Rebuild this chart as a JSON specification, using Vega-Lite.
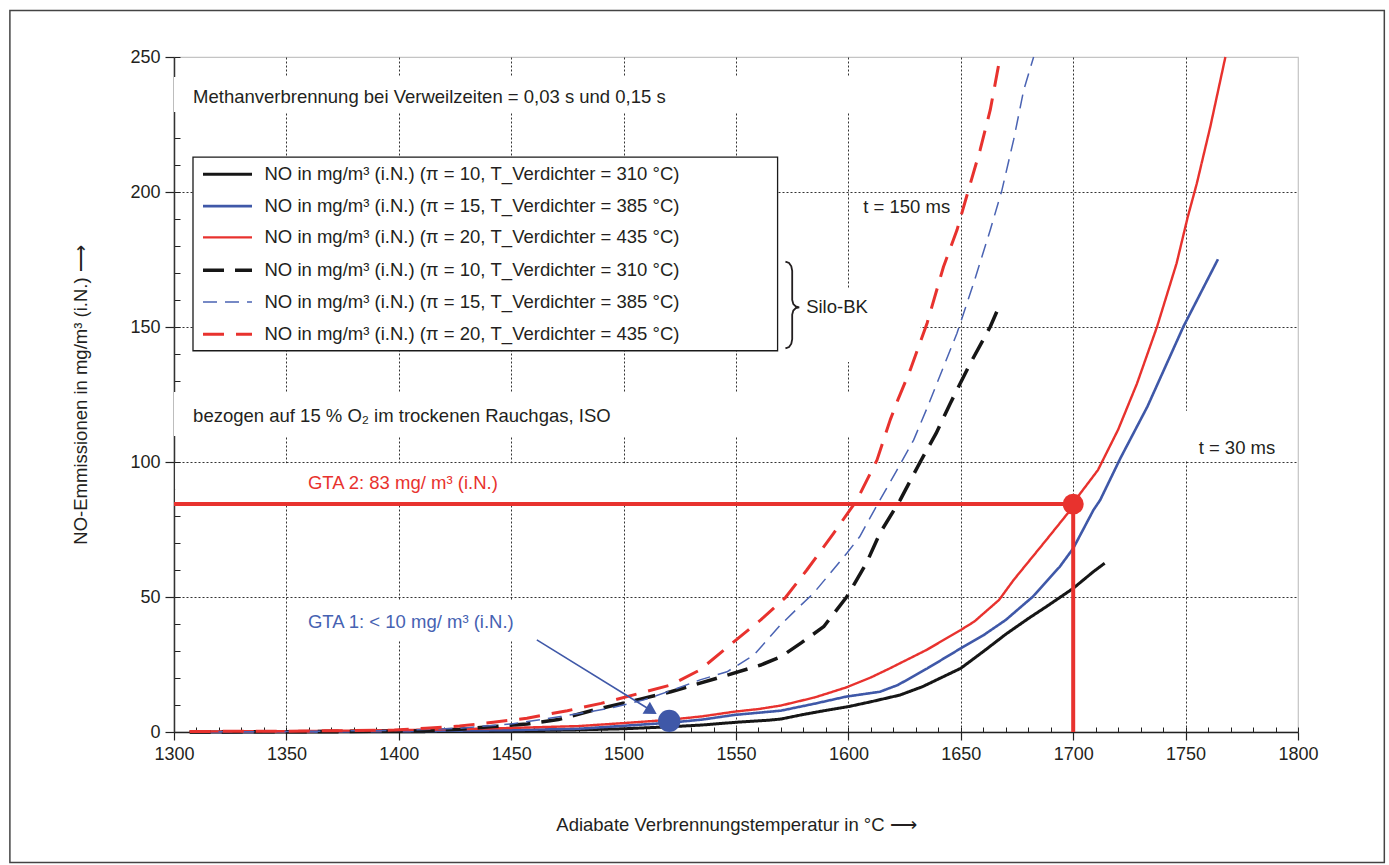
{
  "$schema": "https://vega.github.io/schema/vega-lite/v6.json",
  "width": 1124,
  "height": 675,
  "autosize": {"type": "none"},
  "padding": {"left": 174, "top": 57, "right": 91, "bottom": 133},
  "background": "white",
  "config": {
    "view": {"stroke": "#c4c4c4", "strokeWidth": 1.2},
    "font": "Liberation Sans",
    "text": {"font": "Liberation Sans"},
    "legend": {
      "orient": "none",
      "legendX": 29,
      "legendY": 105.8,
      "direction": "vertical",
      "padding": 0,
      "symbolType": "M-2.5,0H2.5",
      "symbolSize": 384,
      "symbolOffset": 12.5,
      "labelFont": "Liberation Sans",
      "labelFontSize": 18.5,
      "labelColor": "#231f20",
      "rowPadding": 10.8,
      "labelOffset": 25,
      "labelLimit": 0
    }
  },
  "datasets": {
    "frame": [{"x1": 1227.0, "x2": 1838.4, "y1": -48.3, "y2": 267.2}],
    "masks": [
      {"x": 1300, "x2": 1609.7, "y": 229.6, "y2": 242.6},
      {"x": 1300, "x2": 1609.7, "y": 109.6, "y2": 125.9},
      {"x": 1568.3, "x2": 1632.0, "y": 137.0, "y2": 164.4},
      {"x": 1300.5, "x2": 1545, "y": 84.8, "y2": 99.5},
      {"x": 1356, "x2": 1463, "y": 34.1, "y2": 48.5},
      {"x": 1747, "x2": 1795, "y": 100.5, "y2": 119}
    ],
    "legendbox": [{"x": 1308.45, "x2": 1568.5, "y": 141.2, "y2": 212.9}],
    "curves": [
      {"series": "π = 10, T_Verdichter = 310 °C|Flamme", "x": 1307, "y": 0},
      {"series": "π = 10, T_Verdichter = 310 °C|Flamme", "x": 1350, "y": 0},
      {"series": "π = 10, T_Verdichter = 310 °C|Flamme", "x": 1400, "y": 0.1},
      {"series": "π = 10, T_Verdichter = 310 °C|Flamme", "x": 1430, "y": 0.2},
      {"series": "π = 10, T_Verdichter = 310 °C|Flamme", "x": 1450, "y": 0.4},
      {"series": "π = 10, T_Verdichter = 310 °C|Flamme", "x": 1480, "y": 0.8},
      {"series": "π = 10, T_Verdichter = 310 °C|Flamme", "x": 1500, "y": 1.2},
      {"series": "π = 10, T_Verdichter = 310 °C|Flamme", "x": 1520, "y": 1.9},
      {"series": "π = 10, T_Verdichter = 310 °C|Flamme", "x": 1535, "y": 2.6},
      {"series": "π = 10, T_Verdichter = 310 °C|Flamme", "x": 1550, "y": 3.6},
      {"series": "π = 10, T_Verdichter = 310 °C|Flamme", "x": 1565, "y": 4.4},
      {"series": "π = 10, T_Verdichter = 310 °C|Flamme", "x": 1570, "y": 4.8},
      {"series": "π = 10, T_Verdichter = 310 °C|Flamme", "x": 1580, "y": 6.5},
      {"series": "π = 10, T_Verdichter = 310 °C|Flamme", "x": 1590, "y": 8.0},
      {"series": "π = 10, T_Verdichter = 310 °C|Flamme", "x": 1600, "y": 9.4},
      {"series": "π = 10, T_Verdichter = 310 °C|Flamme", "x": 1610, "y": 11.2},
      {"series": "π = 10, T_Verdichter = 310 °C|Flamme", "x": 1623, "y": 13.7},
      {"series": "π = 10, T_Verdichter = 310 °C|Flamme", "x": 1633, "y": 16.8},
      {"series": "π = 10, T_Verdichter = 310 °C|Flamme", "x": 1641, "y": 20.0},
      {"series": "π = 10, T_Verdichter = 310 °C|Flamme", "x": 1650, "y": 23.6},
      {"series": "π = 10, T_Verdichter = 310 °C|Flamme", "x": 1660, "y": 29.8},
      {"series": "π = 10, T_Verdichter = 310 °C|Flamme", "x": 1670, "y": 36.2},
      {"series": "π = 10, T_Verdichter = 310 °C|Flamme", "x": 1680, "y": 42.0},
      {"series": "π = 10, T_Verdichter = 310 °C|Flamme", "x": 1688, "y": 46.4},
      {"series": "π = 10, T_Verdichter = 310 °C|Flamme", "x": 1700, "y": 53.2},
      {"series": "π = 10, T_Verdichter = 310 °C|Flamme", "x": 1709, "y": 59.4},
      {"series": "π = 10, T_Verdichter = 310 °C|Flamme", "x": 1714, "y": 62.5},

      {"series": "π = 15, T_Verdichter = 385 °C|Flamme", "x": 1310, "y": 0},
      {"series": "π = 15, T_Verdichter = 385 °C|Flamme", "x": 1350, "y": 0.1},
      {"series": "π = 15, T_Verdichter = 385 °C|Flamme", "x": 1400, "y": 0.3},
      {"series": "π = 15, T_Verdichter = 385 °C|Flamme", "x": 1450, "y": 0.7},
      {"series": "π = 15, T_Verdichter = 385 °C|Flamme", "x": 1480, "y": 1.2},
      {"series": "π = 15, T_Verdichter = 385 °C|Flamme", "x": 1500, "y": 2.3},
      {"series": "π = 15, T_Verdichter = 385 °C|Flamme", "x": 1520, "y": 3.4},
      {"series": "π = 15, T_Verdichter = 385 °C|Flamme", "x": 1535, "y": 4.6},
      {"series": "π = 15, T_Verdichter = 385 °C|Flamme", "x": 1549, "y": 6.3},
      {"series": "π = 15, T_Verdichter = 385 °C|Flamme", "x": 1570, "y": 7.9},
      {"series": "π = 15, T_Verdichter = 385 °C|Flamme", "x": 1585, "y": 10.5},
      {"series": "π = 15, T_Verdichter = 385 °C|Flamme", "x": 1599, "y": 13.1},
      {"series": "π = 15, T_Verdichter = 385 °C|Flamme", "x": 1614, "y": 14.9},
      {"series": "π = 15, T_Verdichter = 385 °C|Flamme", "x": 1622, "y": 17.4},
      {"series": "π = 15, T_Verdichter = 385 °C|Flamme", "x": 1635, "y": 23.5},
      {"series": "π = 15, T_Verdichter = 385 °C|Flamme", "x": 1650, "y": 31.0},
      {"series": "π = 15, T_Verdichter = 385 °C|Flamme", "x": 1660, "y": 35.8},
      {"series": "π = 15, T_Verdichter = 385 °C|Flamme", "x": 1670, "y": 41.5},
      {"series": "π = 15, T_Verdichter = 385 °C|Flamme", "x": 1682, "y": 50.1},
      {"series": "π = 15, T_Verdichter = 385 °C|Flamme", "x": 1694, "y": 61.2},
      {"series": "π = 15, T_Verdichter = 385 °C|Flamme", "x": 1700, "y": 68.0},
      {"series": "π = 15, T_Verdichter = 385 °C|Flamme", "x": 1709, "y": 82.2},
      {"series": "π = 15, T_Verdichter = 385 °C|Flamme", "x": 1712, "y": 85.9},
      {"series": "π = 15, T_Verdichter = 385 °C|Flamme", "x": 1721, "y": 101.4},
      {"series": "π = 15, T_Verdichter = 385 °C|Flamme", "x": 1733, "y": 120.5},
      {"series": "π = 15, T_Verdichter = 385 °C|Flamme", "x": 1749, "y": 150.1},
      {"series": "π = 15, T_Verdichter = 385 °C|Flamme", "x": 1764.4, "y": 175.1},

      {"series": "π = 20, T_Verdichter = 435 °C|Flamme", "x": 1307, "y": 0.2},
      {"series": "π = 20, T_Verdichter = 435 °C|Flamme", "x": 1350, "y": 0.3},
      {"series": "π = 20, T_Verdichter = 435 °C|Flamme", "x": 1400, "y": 0.7},
      {"series": "π = 20, T_Verdichter = 435 °C|Flamme", "x": 1430, "y": 1.1},
      {"series": "π = 20, T_Verdichter = 435 °C|Flamme", "x": 1450, "y": 1.5},
      {"series": "π = 20, T_Verdichter = 435 °C|Flamme", "x": 1480, "y": 2.2},
      {"series": "π = 20, T_Verdichter = 435 °C|Flamme", "x": 1500, "y": 3.3},
      {"series": "π = 20, T_Verdichter = 435 °C|Flamme", "x": 1520, "y": 4.5},
      {"series": "π = 20, T_Verdichter = 435 °C|Flamme", "x": 1535, "y": 5.8},
      {"series": "π = 20, T_Verdichter = 435 °C|Flamme", "x": 1549, "y": 7.5},
      {"series": "π = 20, T_Verdichter = 435 °C|Flamme", "x": 1560, "y": 8.5},
      {"series": "π = 20, T_Verdichter = 435 °C|Flamme", "x": 1570, "y": 9.8},
      {"series": "π = 20, T_Verdichter = 435 °C|Flamme", "x": 1585, "y": 12.8},
      {"series": "π = 20, T_Verdichter = 435 °C|Flamme", "x": 1599, "y": 16.5},
      {"series": "π = 20, T_Verdichter = 435 °C|Flamme", "x": 1610, "y": 20.2},
      {"series": "π = 20, T_Verdichter = 435 °C|Flamme", "x": 1618.5, "y": 23.6},
      {"series": "π = 20, T_Verdichter = 435 °C|Flamme", "x": 1635, "y": 30.5},
      {"series": "π = 20, T_Verdichter = 435 °C|Flamme", "x": 1650, "y": 37.8},
      {"series": "π = 20, T_Verdichter = 435 °C|Flamme", "x": 1656, "y": 40.9},
      {"series": "π = 20, T_Verdichter = 435 °C|Flamme", "x": 1667, "y": 48.9},
      {"series": "π = 20, T_Verdichter = 435 °C|Flamme", "x": 1673.5, "y": 56.3},
      {"series": "π = 20, T_Verdichter = 435 °C|Flamme", "x": 1688, "y": 71.1},
      {"series": "π = 20, T_Verdichter = 435 °C|Flamme", "x": 1700, "y": 83.5},
      {"series": "π = 20, T_Verdichter = 435 °C|Flamme", "x": 1702, "y": 87.1},
      {"series": "π = 20, T_Verdichter = 435 °C|Flamme", "x": 1711, "y": 97.0},
      {"series": "π = 20, T_Verdichter = 435 °C|Flamme", "x": 1720, "y": 112.0},
      {"series": "π = 20, T_Verdichter = 435 °C|Flamme", "x": 1728.4, "y": 129.1},
      {"series": "π = 20, T_Verdichter = 435 °C|Flamme", "x": 1737.3, "y": 150.1},
      {"series": "π = 20, T_Verdichter = 435 °C|Flamme", "x": 1746, "y": 173.6},
      {"series": "π = 20, T_Verdichter = 435 °C|Flamme", "x": 1751, "y": 190.9},
      {"series": "π = 20, T_Verdichter = 435 °C|Flamme", "x": 1755, "y": 203.2},
      {"series": "π = 20, T_Verdichter = 435 °C|Flamme", "x": 1761, "y": 224.2},
      {"series": "π = 20, T_Verdichter = 435 °C|Flamme", "x": 1767.7, "y": 250},

      {"series": "π = 10, T_Verdichter = 310 °C|Silo-BK", "x": 1307, "y": 0},
      {"series": "π = 10, T_Verdichter = 310 °C|Silo-BK", "x": 1350, "y": 0.1},
      {"series": "π = 10, T_Verdichter = 310 °C|Silo-BK", "x": 1400, "y": 0.3},
      {"series": "π = 10, T_Verdichter = 310 °C|Silo-BK", "x": 1412, "y": 0.5},
      {"series": "π = 10, T_Verdichter = 310 °C|Silo-BK", "x": 1427, "y": 1.0},
      {"series": "π = 10, T_Verdichter = 310 °C|Silo-BK", "x": 1442, "y": 2.0},
      {"series": "π = 10, T_Verdichter = 310 °C|Silo-BK", "x": 1457, "y": 3.0},
      {"series": "π = 10, T_Verdichter = 310 °C|Silo-BK", "x": 1471, "y": 4.6},
      {"series": "π = 10, T_Verdichter = 310 °C|Silo-BK", "x": 1488, "y": 8.4},
      {"series": "π = 10, T_Verdichter = 310 °C|Silo-BK", "x": 1507, "y": 12.1},
      {"series": "π = 10, T_Verdichter = 310 °C|Silo-BK", "x": 1521, "y": 14.9},
      {"series": "π = 10, T_Verdichter = 310 °C|Silo-BK", "x": 1541.5, "y": 19.9},
      {"series": "π = 10, T_Verdichter = 310 °C|Silo-BK", "x": 1561, "y": 24.8},
      {"series": "π = 10, T_Verdichter = 310 °C|Silo-BK", "x": 1570, "y": 27.9},
      {"series": "π = 10, T_Verdichter = 310 °C|Silo-BK", "x": 1579, "y": 33.0},
      {"series": "π = 10, T_Verdichter = 310 °C|Silo-BK", "x": 1589, "y": 39.0},
      {"series": "π = 10, T_Verdichter = 310 °C|Silo-BK", "x": 1599.3, "y": 50.1},
      {"series": "π = 10, T_Verdichter = 310 °C|Silo-BK", "x": 1608, "y": 62.5},
      {"series": "π = 10, T_Verdichter = 310 °C|Silo-BK", "x": 1614, "y": 73.6},
      {"series": "π = 10, T_Verdichter = 310 °C|Silo-BK", "x": 1623, "y": 85.9},
      {"series": "π = 10, T_Verdichter = 310 °C|Silo-BK", "x": 1632, "y": 100.1},
      {"series": "π = 10, T_Verdichter = 310 °C|Silo-BK", "x": 1639, "y": 110.6},
      {"series": "π = 10, T_Verdichter = 310 °C|Silo-BK", "x": 1645.3, "y": 121.7},
      {"series": "π = 10, T_Verdichter = 310 °C|Silo-BK", "x": 1648.3, "y": 126.7},
      {"series": "π = 10, T_Verdichter = 310 °C|Silo-BK", "x": 1654.2, "y": 136.5},
      {"series": "π = 10, T_Verdichter = 310 °C|Silo-BK", "x": 1663.1, "y": 150.1},
      {"series": "π = 10, T_Verdichter = 310 °C|Silo-BK", "x": 1667.5, "y": 158.5},

      {"series": "π = 15, T_Verdichter = 385 °C|Silo-BK", "x": 1310, "y": 0},
      {"series": "π = 15, T_Verdichter = 385 °C|Silo-BK", "x": 1350, "y": 0.2},
      {"series": "π = 15, T_Verdichter = 385 °C|Silo-BK", "x": 1400, "y": 0.6},
      {"series": "π = 15, T_Verdichter = 385 °C|Silo-BK", "x": 1427, "y": 1.4},
      {"series": "π = 15, T_Verdichter = 385 °C|Silo-BK", "x": 1450, "y": 3.0},
      {"series": "π = 15, T_Verdichter = 385 °C|Silo-BK", "x": 1472, "y": 5.7},
      {"series": "π = 15, T_Verdichter = 385 °C|Silo-BK", "x": 1494, "y": 8.8},
      {"series": "π = 15, T_Verdichter = 385 °C|Silo-BK", "x": 1509, "y": 11.9},
      {"series": "π = 15, T_Verdichter = 385 °C|Silo-BK", "x": 1522, "y": 15.6},
      {"series": "π = 15, T_Verdichter = 385 °C|Silo-BK", "x": 1534, "y": 19.3},
      {"series": "π = 15, T_Verdichter = 385 °C|Silo-BK", "x": 1546, "y": 22.3},
      {"series": "π = 15, T_Verdichter = 385 °C|Silo-BK", "x": 1558, "y": 28.5},
      {"series": "π = 15, T_Verdichter = 385 °C|Silo-BK", "x": 1569.6, "y": 39.5},
      {"series": "π = 15, T_Verdichter = 385 °C|Silo-BK", "x": 1577, "y": 45.5},
      {"series": "π = 15, T_Verdichter = 385 °C|Silo-BK", "x": 1584.5, "y": 51.4},
      {"series": "π = 15, T_Verdichter = 385 °C|Silo-BK", "x": 1599.3, "y": 66.2},
      {"series": "π = 15, T_Verdichter = 385 °C|Silo-BK", "x": 1605, "y": 72.3},
      {"series": "π = 15, T_Verdichter = 385 °C|Silo-BK", "x": 1614, "y": 85.9},
      {"series": "π = 15, T_Verdichter = 385 °C|Silo-BK", "x": 1621.6, "y": 97.0},
      {"series": "π = 15, T_Verdichter = 385 °C|Silo-BK", "x": 1629, "y": 108.1},
      {"series": "π = 15, T_Verdichter = 385 °C|Silo-BK", "x": 1635, "y": 120.0},
      {"series": "π = 15, T_Verdichter = 385 °C|Silo-BK", "x": 1648.3, "y": 147.7},
      {"series": "π = 15, T_Verdichter = 385 °C|Silo-BK", "x": 1655.7, "y": 166.2},
      {"series": "π = 15, T_Verdichter = 385 °C|Silo-BK", "x": 1663.1, "y": 185.9},
      {"series": "π = 15, T_Verdichter = 385 °C|Silo-BK", "x": 1668.3, "y": 200.7},
      {"series": "π = 15, T_Verdichter = 385 °C|Silo-BK", "x": 1673.5, "y": 219.3},
      {"series": "π = 15, T_Verdichter = 385 °C|Silo-BK", "x": 1678, "y": 237.8},
      {"series": "π = 15, T_Verdichter = 385 °C|Silo-BK", "x": 1682.4, "y": 250},

      {"series": "π = 20, T_Verdichter = 435 °C|Silo-BK", "x": 1307, "y": 0.2},
      {"series": "π = 20, T_Verdichter = 435 °C|Silo-BK", "x": 1350, "y": 0.3},
      {"series": "π = 20, T_Verdichter = 435 °C|Silo-BK", "x": 1398, "y": 0.7},
      {"series": "π = 20, T_Verdichter = 435 °C|Silo-BK", "x": 1412, "y": 1.4},
      {"series": "π = 20, T_Verdichter = 435 °C|Silo-BK", "x": 1427, "y": 2.2},
      {"series": "π = 20, T_Verdichter = 435 °C|Silo-BK", "x": 1442, "y": 3.6},
      {"series": "π = 20, T_Verdichter = 435 °C|Silo-BK", "x": 1457, "y": 5.1},
      {"series": "π = 20, T_Verdichter = 435 °C|Silo-BK", "x": 1475, "y": 7.9},
      {"series": "π = 20, T_Verdichter = 435 °C|Silo-BK", "x": 1490, "y": 10.6},
      {"series": "π = 20, T_Verdichter = 435 °C|Silo-BK", "x": 1507, "y": 14.3},
      {"series": "π = 20, T_Verdichter = 435 °C|Silo-BK", "x": 1521, "y": 17.4},
      {"series": "π = 20, T_Verdichter = 435 °C|Silo-BK", "x": 1534, "y": 23.0},
      {"series": "π = 20, T_Verdichter = 435 °C|Silo-BK", "x": 1549, "y": 33.4},
      {"series": "π = 20, T_Verdichter = 435 °C|Silo-BK", "x": 1561, "y": 41.5},
      {"series": "π = 20, T_Verdichter = 435 °C|Silo-BK", "x": 1572, "y": 49.8},
      {"series": "π = 20, T_Verdichter = 435 °C|Silo-BK", "x": 1581.5, "y": 60.0},
      {"series": "π = 20, T_Verdichter = 435 °C|Silo-BK", "x": 1593.4, "y": 73.6},
      {"series": "π = 20, T_Verdichter = 435 °C|Silo-BK", "x": 1603.8, "y": 85.9},
      {"series": "π = 20, T_Verdichter = 435 °C|Silo-BK", "x": 1612.7, "y": 100.7},
      {"series": "π = 20, T_Verdichter = 435 °C|Silo-BK", "x": 1618.6, "y": 115.6},
      {"series": "π = 20, T_Verdichter = 435 °C|Silo-BK", "x": 1622, "y": 123.0},
      {"series": "π = 20, T_Verdichter = 435 °C|Silo-BK", "x": 1627.5, "y": 134.1},
      {"series": "π = 20, T_Verdichter = 435 °C|Silo-BK", "x": 1635, "y": 151.4},
      {"series": "π = 20, T_Verdichter = 435 °C|Silo-BK", "x": 1642.3, "y": 172.3},
      {"series": "π = 20, T_Verdichter = 435 °C|Silo-BK", "x": 1648.3, "y": 185.9},
      {"series": "π = 20, T_Verdichter = 435 °C|Silo-BK", "x": 1653.4, "y": 200.7},
      {"series": "π = 20, T_Verdichter = 435 °C|Silo-BK", "x": 1658.6, "y": 215.6},
      {"series": "π = 20, T_Verdichter = 435 °C|Silo-BK", "x": 1663.1, "y": 230.4},
      {"series": "π = 20, T_Verdichter = 435 °C|Silo-BK", "x": 1667.5, "y": 250}
    ],
    "brace": [
      {"i": 1, "x": 1572.0, "y": 174.2},
      {"i": 2, "x": 1573.6, "y": 173.7},
      {"i": 3, "x": 1574.6, "y": 172.5},
      {"i": 4, "x": 1575.0, "y": 170.8},
      {"i": 5, "x": 1575.0, "y": 160.0},
      {"i": 6, "x": 1575.5, "y": 158.5},
      {"i": 7, "x": 1576.6, "y": 157.6},
      {"i": 8, "x": 1578.1, "y": 157.3},
      {"i": 9, "x": 1576.6, "y": 157.0},
      {"i": 10, "x": 1575.5, "y": 156.1},
      {"i": 11, "x": 1575.0, "y": 154.6},
      {"i": 12, "x": 1575.0, "y": 145.5},
      {"i": 13, "x": 1574.6, "y": 143.8},
      {"i": 14, "x": 1573.6, "y": 142.6},
      {"i": 15, "x": 1572.0, "y": 142.1}
    ],
    "gta2line": [
      {"i": 1, "x": 1300, "y": 84.4},
      {"i": 2, "x": 1700, "y": 84.4},
      {"i": 3, "x": 1700, "y": 0}
    ],
    "gta2dot": [{"x": 1700, "y": 84.4}],
    "gta1dot": [{"x": 1520.3, "y": 4.1}],
    "gta1arrow": [
      {"i": 1, "x": 1461.4, "y": 34.1},
      {"i": 2, "x": 1511.0, "y": 8.6}
    ],
    "gta1head": [{"x": 1512.4, "y": 7.8}],
    "notes": [
      {"x": 1308.5, "y": 235.2, "text": "Methanverbrennung bei Verweilzeiten = 0,03 s und 0,15 s"},
      {"x": 1308.5, "y": 117.0, "text": "bezogen auf 15 % O₂ im trockenen Rauchgas, ISO"},
      {"x": 1581.2, "y": 157.3, "text": "Silo-BK"},
      {"x": 1606.6, "y": 194.6, "text": "t = 150 ms"},
      {"x": 1755.8, "y": 105.1, "text": "t = 30 ms"}
    ],
    "note_blue": [{"x": 1359.6, "y": 40.9, "text": "GTA 1: < 10 mg/ m³ (i.N.)"}],
    "note_red": [{"x": 1359.6, "y": 92.1, "text": "GTA 2: 83 mg/ m³ (i.N.)"}]
  },
  "resolve": {"axis": {"x": "independent", "y": "independent"}},
  "layer": [
    {
      "data": {"name": "frame"},
      "mark": {"type": "rect", "fillOpacity": 0, "stroke": "#444", "strokeWidth": 1.5, "clip": false},
      "encoding": {
        "x": {"field": "x1", "type": "quantitative",
              "scale": {"domain": [1300, 1800], "nice": false, "zero": false},
              "axis": {"orient": "bottom", "title": null, "labels": false, "domain": false, "grid": false,
                       "tickSize": -5, "tickColor": "#222", "tickWidth": 1,
                       "values": [1300,1310,1320,1330,1340,1350,1360,1370,1380,1390,1400,1410,1420,1430,1440,1450,1460,1470,1480,1490,1500,1510,1520,1530,1540,1550,1560,1570,1580,1590,1600,1610,1620,1630,1640,1650,1660,1670,1680,1690,1700,1710,1720,1730,1740,1750,1760,1770,1780,1790,1800]}},
        "x2": {"field": "x2"},
        "y": {"field": "y1", "type": "quantitative",
              "scale": {"domain": [0, 250], "nice": false},
              "axis": {"orient": "left", "title": null, "labels": false, "domain": false, "grid": false,
                       "tickSize": -6, "tickColor": "#222", "tickWidth": 1,
                       "values": [0,10,20,30,40,50,60,70,80,90,100,110,120,130,140,150,160,170,180,190,200,210,220,230,240,250]}},
        "y2": {"field": "y2"}
      }
    },
    {
      "layer": [
        {
          "data": {"name": "masks"},
          "mark": {"type": "rect", "fill": "white", "stroke": null},
          "encoding": {
            "x": {"field": "x", "type": "quantitative",
                  "axis": {"orient": "bottom", "values": [1300,1350,1400,1450,1500,1550,1600,1650,1700,1750,1800],
                           "format": "d", "title": "Adiabate Verbrennungstemperatur in °C  ⟶",
                           "titleFont": "Liberation Sans", "titleFontSize": 18.5, "titleFontWeight": "normal", "titleColor": "#231f20",
                           "titlePadding": 52,
                           "labelFont": "Liberation Sans", "labelFontSize": 18, "labelColor": "#231f20", "labelPadding": 5,
                           "labelFlush": false, "labelOverlap": false,
                           "tickSize": 8, "tickColor": "#222", "tickWidth": 1.2,
                           "domainColor": "#222", "domainWidth": 1.5,
                           "grid": true, "gridColor": "#333", "gridDash": [2, 2], "gridWidth": 1,
                           "gridOpacity": {"condition": {"test": "datum.value == 1300 || datum.value == 1800", "value": 0}, "value": 1}}},
            "x2": {"field": "x2"},
            "y": {"field": "y", "type": "quantitative",
                  "axis": {"orient": "left", "values": [0, 50, 100, 150, 200, 250],
                           "format": "d", "title": "NO-Emmissionen in mg/m³ (i.N.)  ⟶",
                           "titleFont": "Liberation Sans", "titleFontSize": 18.5, "titleFontWeight": "normal", "titleColor": "#231f20",
                           "titlePadding": 39,
                           "labelFont": "Liberation Sans", "labelFontSize": 18, "labelColor": "#231f20", "labelPadding": 5,
                           "labelFlush": false, "labelOverlap": false,
                           "tickSize": 9, "tickColor": "#222", "tickWidth": 1.2,
                           "domainColor": "#333", "domainWidth": 1.5,
                           "grid": true, "gridColor": "#333", "gridDash": [2, 2], "gridWidth": 1,
                           "gridOpacity": {"condition": {"test": "datum.value == 0 || datum.value == 250", "value": 0}, "value": 1}}},
            "y2": {"field": "y2"}
          }
        },
        {
          "data": {"name": "legendbox"},
          "mark": {"type": "rect", "fill": "white", "stroke": "#1a1a1a", "strokeWidth": 1.3},
          "encoding": {
            "x": {"field": "x", "type": "quantitative"},
            "x2": {"field": "x2"},
            "y": {"field": "y", "type": "quantitative"},
            "y2": {"field": "y2"}
          }
        },
        {
          "data": {"name": "curves"},
          "mark": {"type": "line", "strokeJoin": "round"},
          "encoding": {
            "x": {"field": "x", "type": "quantitative"},
            "y": {"field": "y", "type": "quantitative"},
            "color": {"field": "series", "type": "nominal",
                      "scale": {"domain": ["π = 10, T_Verdichter = 310 °C|Flamme", "π = 15, T_Verdichter = 385 °C|Flamme", "π = 20, T_Verdichter = 435 °C|Flamme", "π = 10, T_Verdichter = 310 °C|Silo-BK", "π = 15, T_Verdichter = 385 °C|Silo-BK", "π = 20, T_Verdichter = 435 °C|Silo-BK"],
                                "range": ["#161616", "#3f58a8", "#e8322e", "#161616", "#4a63b3", "#e8322e"]},
                      "legend": {"title": null, "labelExpr": "'NO in mg/m³ (i.N.) (' + split(datum.label, '|')[0] + ')'"}},
            "strokeDash": {"field": "series", "type": "nominal",
                           "scale": {"domain": ["π = 10, T_Verdichter = 310 °C|Flamme", "π = 15, T_Verdichter = 385 °C|Flamme", "π = 20, T_Verdichter = 435 °C|Flamme", "π = 10, T_Verdichter = 310 °C|Silo-BK", "π = 15, T_Verdichter = 385 °C|Silo-BK", "π = 20, T_Verdichter = 435 °C|Silo-BK"],
                                     "range": [[1, 0], [1, 0], [1, 0], [21, 11], [14, 8], [21, 12]]},
                           "legend": {"title": null, "labelExpr": "'NO in mg/m³ (i.N.) (' + split(datum.label, '|')[0] + ')'"}},
            "strokeWidth": {"field": "series", "type": "nominal",
                            "scale": {"type": "ordinal", "domain": ["π = 10, T_Verdichter = 310 °C|Flamme", "π = 15, T_Verdichter = 385 °C|Flamme", "π = 20, T_Verdichter = 435 °C|Flamme", "π = 10, T_Verdichter = 310 °C|Silo-BK", "π = 15, T_Verdichter = 385 °C|Silo-BK", "π = 20, T_Verdichter = 435 °C|Silo-BK"],
                                      "range": [3, 2.6, 2.4, 3.5, 1.5, 3]},
                            "legend": {"title": null, "labelExpr": "'NO in mg/m³ (i.N.) (' + split(datum.label, '|')[0] + ')'"}}
          }
        },
        {
          "data": {"name": "brace"},
          "mark": {"type": "line", "color": "#231f20", "strokeWidth": 1.8},
          "encoding": {
            "x": {"field": "x", "type": "quantitative"},
            "y": {"field": "y", "type": "quantitative"},
            "order": {"field": "i", "type": "quantitative"}
          }
        },
        {
          "data": {"name": "gta2line"},
          "mark": {"type": "line", "color": "#e8322e", "strokeWidth": 4},
          "encoding": {
            "x": {"field": "x", "type": "quantitative"},
            "y": {"field": "y", "type": "quantitative"},
            "order": {"field": "i", "type": "quantitative"}
          }
        },
        {
          "data": {"name": "gta2dot"},
          "mark": {"type": "point", "filled": true, "color": "#e8322e", "opacity": 1, "size": 440},
          "encoding": {
            "x": {"field": "x", "type": "quantitative"},
            "y": {"field": "y", "type": "quantitative"}
          }
        },
        {
          "data": {"name": "gta1arrow"},
          "mark": {"type": "line", "color": "#3f58a8", "strokeWidth": 1.6},
          "encoding": {
            "x": {"field": "x", "type": "quantitative"},
            "y": {"field": "y", "type": "quantitative"},
            "order": {"field": "i", "type": "quantitative"}
          }
        },
        {
          "data": {"name": "gta1head"},
          "mark": {"type": "point", "shape": "triangle-right", "filled": true, "color": "#3f58a8", "opacity": 1, "size": 200, "angle": 31},
          "encoding": {
            "x": {"field": "x", "type": "quantitative"},
            "y": {"field": "y", "type": "quantitative"}
          }
        },
        {
          "data": {"name": "gta1dot"},
          "mark": {"type": "point", "filled": true, "color": "#3f58a8", "opacity": 1, "size": 500},
          "encoding": {
            "x": {"field": "x", "type": "quantitative"},
            "y": {"field": "y", "type": "quantitative"}
          }
        },
        {
          "data": {"name": "notes"},
          "mark": {"type": "text", "align": "left", "baseline": "middle", "fontSize": 18.5, "font": "Liberation Sans", "color": "#231f20"},
          "encoding": {
            "x": {"field": "x", "type": "quantitative"},
            "y": {"field": "y", "type": "quantitative"},
            "text": {"field": "text"}
          }
        },
        {
          "data": {"name": "note_blue"},
          "mark": {"type": "text", "align": "left", "baseline": "middle", "fontSize": 18.5, "font": "Liberation Sans", "color": "#4662b2"},
          "encoding": {
            "x": {"field": "x", "type": "quantitative"},
            "y": {"field": "y", "type": "quantitative"},
            "text": {"field": "text"}
          }
        },
        {
          "data": {"name": "note_red"},
          "mark": {"type": "text", "align": "left", "baseline": "middle", "fontSize": 18.5, "font": "Liberation Sans", "color": "#e8322e"},
          "encoding": {
            "x": {"field": "x", "type": "quantitative"},
            "y": {"field": "y", "type": "quantitative"},
            "text": {"field": "text"}
          }
        }
      ]
    }
  ]
}
